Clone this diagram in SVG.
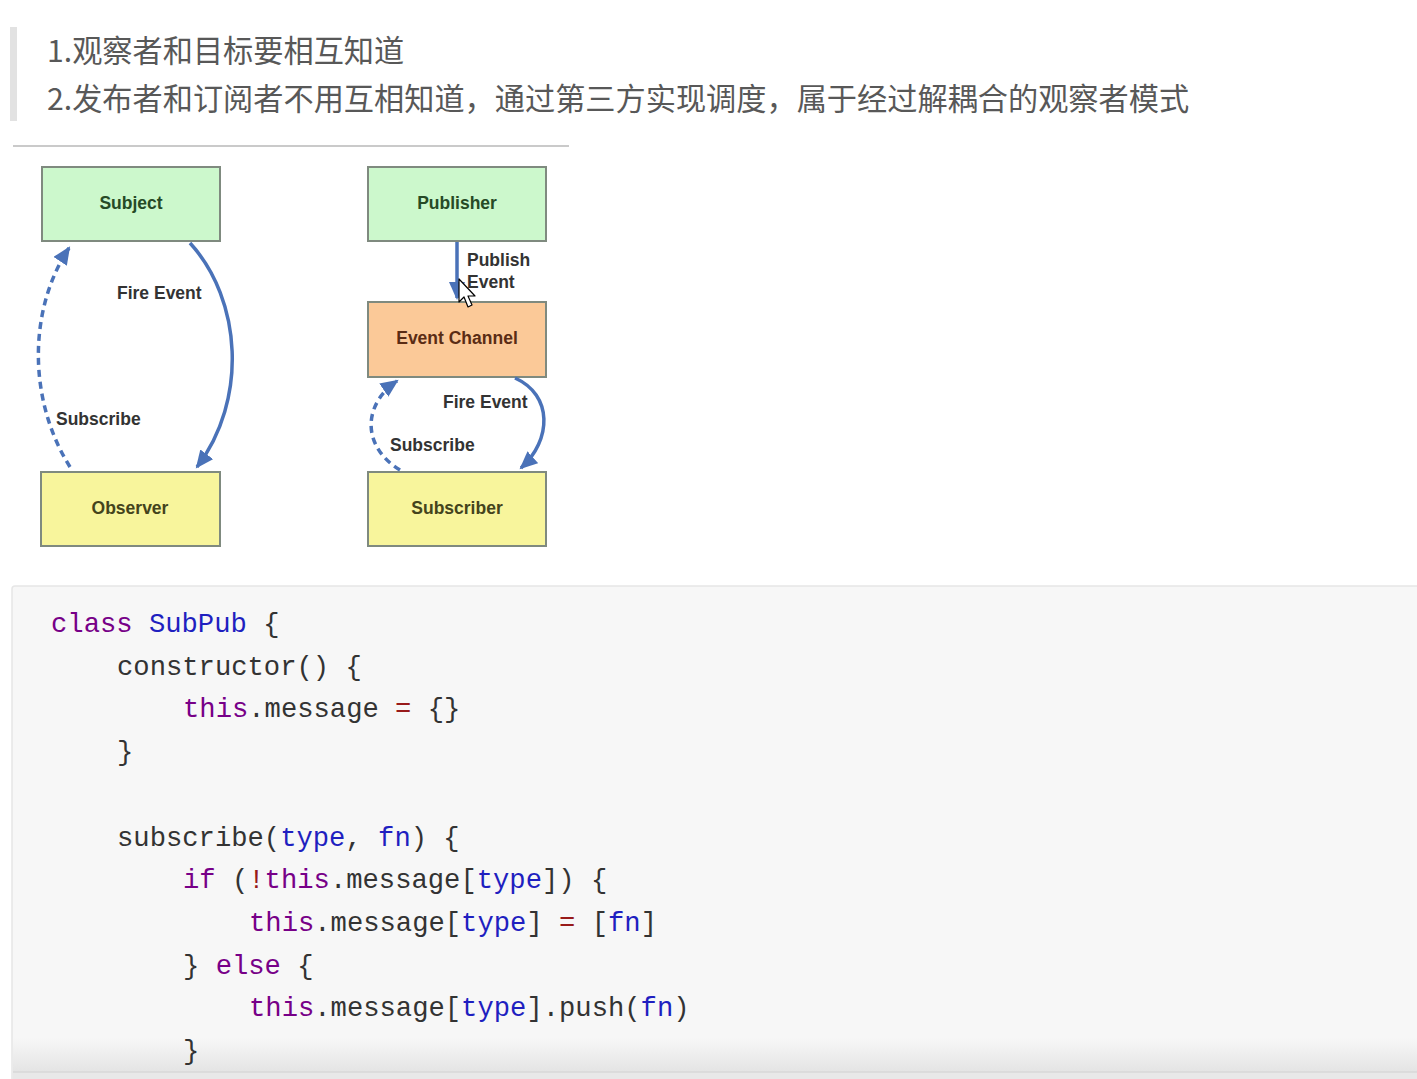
<svg xmlns="http://www.w3.org/2000/svg" width="1417" height="1079" viewBox="0 0 1417 1079">
<defs>
<style>
.hdr{font-family:"Noto Sans CJK SC","Liberation Sans",sans-serif;font-size:30.2px;fill:#585858}
.node rect{stroke:#7f8a7f;stroke-width:2}
.nt{font-family:"Liberation Sans",Arial,sans-serif;font-weight:bold;font-size:17.5px;text-anchor:middle}
.lbl{font-family:"Liberation Sans",Arial,sans-serif;font-weight:bold;font-size:17.5px;fill:#333}
.arr{fill:none;stroke:#4a72b8;stroke-width:3.5}
.dash{stroke-dasharray:7,5}
.code{font-family:"Liberation Mono","DejaVu Sans Mono",monospace;font-size:27.2px;fill:#333;white-space:pre}
.kw{fill:#770088}
.df{fill:#1f1fc0}
.op{fill:#981a1a}
</style>
<marker id="ah" markerUnits="userSpaceOnUse" markerWidth="20" markerHeight="18" refX="16" refY="8" orient="auto">
<path d="M0,0 L18,8 L0,16 z" fill="#4a72b8"/>
</marker>
<linearGradient id="fade" x1="0" y1="0" x2="0" y2="1">
<stop offset="0" stop-color="#f7f7f7"/>
<stop offset="1" stop-color="#e4e4e4"/>
</linearGradient>
</defs>
<rect width="1417" height="1079" fill="#ffffff"/>

<!-- header -->
<rect x="10" y="27" width="7" height="94" fill="#e2e2e2"/>
<text class="hdr" x="47" y="62">1.观察者和目标要相互知道</text>
<text class="hdr" x="47" y="110">2.发布者和订阅者不用互相知道，通过第三方实现调度，属于经过解耦合的观察者模式</text>
<rect x="13" y="145" width="556" height="2" fill="#cacaca"/>

<!-- nodes -->
<g id="subject" class="node"><rect x="42" y="167" width="178" height="74" fill="#ccf8cc"/><text class="nt" x="131" y="209" fill="#264a26">Subject</text></g>
<g id="observer" class="node"><rect x="41" y="472" width="179" height="74" fill="#f8f59c"/><text class="nt" x="130" y="514" fill="#44441c">Observer</text></g>
<g id="publisher" class="node"><rect x="368" y="167" width="178" height="74" fill="#ccf8cc"/><text class="nt" x="457" y="209" fill="#264a26">Publisher</text></g>
<g id="eventchannel" class="node"><rect x="368" y="302" width="178" height="75" fill="#fbc998"/><text class="nt" x="457" y="344" fill="#5a2c14">Event Channel</text></g>
<g id="subscriber" class="node"><rect x="368" y="472" width="178" height="74" fill="#f8f59c"/><text class="nt" x="457" y="514" fill="#44441c">Subscriber</text></g>

<!-- connectors -->
<g id="connectors">
<path class="arr" d="M190,243 C242,300 248,400 197,467" marker-end="url(#ah)"/>
<path class="arr dash" d="M70,467 C28,400 28,310 69,248" marker-end="url(#ah)"/>
<path class="arr" d="M457,242 L457,298" marker-end="url(#ah)"/>
<path class="arr" d="M515,378 C553,395 552,440 521,468" marker-end="url(#ah)"/>
<path class="arr dash" d="M400,470 C362,447 362,405 397,381" marker-end="url(#ah)"/>
<text class="lbl" x="117" y="299">Fire Event</text>
<text class="lbl" x="56" y="425">Subscribe</text>
<text class="lbl" x="467" y="266">Publish</text>
<text class="lbl" x="467" y="288">Event</text>
<text class="lbl" x="443" y="408">Fire Event</text>
<text class="lbl" x="390" y="451">Subscribe</text>
</g>

<!-- mouse cursor -->
<path d="M459,279 L459,302 L464,297 L468,307 L472,305 L468,296 L475,296 z" fill="#ffffff" stroke="#000000" stroke-width="1.2" stroke-linejoin="round"/>

<!-- code block -->
<rect x="12" y="586" width="1420" height="500" rx="3" fill="#f7f7f7" stroke="#e6e6e6" stroke-width="1.5"/>
<rect x="13" y="1038" width="1404" height="34" fill="url(#fade)"/>
<rect x="13" y="1072" width="1404" height="7" fill="#e8e8e8"/>
<line x1="13" y1="1072" x2="1417" y2="1072" stroke="#d8d8d8" stroke-width="1.5"/>

<text class="code" x="51" y="632"><tspan class="kw">class</tspan> <tspan class="df">SubPub</tspan> {</text>
<text class="code" x="117" y="675">constructor() {</text>
<text class="code" x="183" y="717"><tspan class="kw">this</tspan>.message <tspan class="op">=</tspan> {}</text>
<text class="code" x="117" y="760">}</text>
<text class="code" x="117" y="846">subscribe(<tspan class="df">type</tspan>, <tspan class="df">fn</tspan>) {</text>
<text class="code" x="183" y="888"><tspan class="kw">if</tspan> (<tspan class="op">!</tspan><tspan class="kw">this</tspan>.message[<tspan class="df">type</tspan>]) {</text>
<text class="code" x="249" y="931"><tspan class="kw">this</tspan>.message[<tspan class="df">type</tspan>] <tspan class="op">=</tspan> [<tspan class="df">fn</tspan>]</text>
<text class="code" x="183" y="974">} <tspan class="kw">else</tspan> {</text>
<text class="code" x="249" y="1016"><tspan class="kw">this</tspan>.message[<tspan class="df">type</tspan>].push(<tspan class="df">fn</tspan>)</text>
<text class="code" x="183" y="1059">}</text>
</svg>
